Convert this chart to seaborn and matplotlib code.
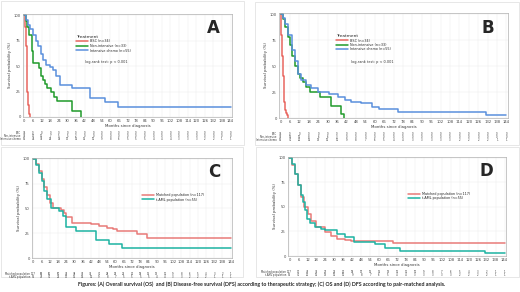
import matplotlib
matplotlib.use("Agg")
import matplotlib.pyplot as plt
from matplotlib.patches import Rectangle
import seaborn as sns
import pandas as pd

# ---- data (Kaplan-Meier step points) ----
months_ticks = list(range(0, 145, 6))

# A: overall survival by treatment
a_bsc_t = [0, 0.5, 1, 1.5, 2, 2.5, 3, 3.5, 4]
a_bsc_s = [100, 88, 70, 45, 25, 12, 6, 3, 0]
a_non_t = [0, 1, 2, 3.5, 5, 6, 10, 11.5, 13, 14.5, 16, 18.5, 20.5, 23, 33, 39.5]
a_non_s = [100, 94, 88, 80, 65, 53, 48, 40, 36, 32, 28, 25, 20, 16, 6, 0]
a_int_t = [0, 1, 2.5, 4, 6, 8, 9.5, 11.5, 13, 15, 18, 20, 22, 24.5, 33, 45.5, 56, 65.5, 144]
a_int_s = [100, 95, 90, 86, 80, 75, 70, 62, 56, 51, 49, 46, 40, 31, 28, 18.5, 14.5, 9.5, 9.5]

# B: disease-free survival by treatment
b_bsc_t = [0, 0.5, 1, 1.5, 2, 2.5, 3, 3.5, 4, 5]
b_bsc_s = [100, 80, 60, 40, 25, 15, 8, 5, 3, 0]
b_non_t = [0, 1.5, 3, 5, 6, 7, 9, 11, 12.5, 14.5, 16.5, 18.5, 25, 32, 38.5, 40.5]
b_non_s = [100, 95, 88, 78, 70, 60, 50, 42, 38, 35, 30, 25, 20, 12, 4, 0]
b_int_t = [0, 1.5, 3, 5, 7, 9, 11, 13, 16.5, 19.5, 24, 31, 36.5, 41, 45, 51.5, 58, 63, 75, 131, 144]
b_int_s = [100, 96, 90, 80, 65, 55, 42, 37, 32, 29, 25, 23, 20, 17, 15, 14, 11, 9, 6, 3, 3]

# C: OS pair-matched
c_mat_t = [0, 2, 4, 6, 8, 10, 12, 14, 16, 20, 22, 24, 28, 42, 48, 54, 58, 61, 76, 83, 144]
c_mat_s = [100, 95, 88, 80, 72, 64, 56, 51, 50, 48, 45, 41, 35, 34, 32, 30, 29, 27, 24, 20, 20]
c_taml_t = [0, 2, 4, 6, 8, 10, 13, 19, 21.5, 23.5, 31, 46, 55.5, 65, 144]
c_taml_s = [100, 94, 86, 78, 68, 60, 50, 47, 42, 31, 27, 18, 14, 10, 10]

# D: DFS pair-matched
d_mat_t = [0, 2, 4, 6, 8, 10, 12.5, 14.5, 18, 23.5, 28, 32, 37, 41, 69.5, 144]
d_mat_s = [100, 93, 84, 72, 60, 50, 43, 36, 30, 24, 20, 17, 16, 15, 13, 13]
d_taml_t = [0, 2, 4, 6, 7.5, 9, 10.5, 12, 13.5, 17, 21, 23.5, 32, 37, 43, 57.5, 64, 74, 131, 144]
d_taml_s = [100, 94, 84, 72, 62, 55, 47, 38, 34, 30, 28, 27, 22, 19, 14, 12, 8, 5, 3, 3]

# numbers at risk (estimated, too small to read exactly)
a_risk = {
    "BSC": [34] + [0] * 24,
    "Non-intensive": [33, 17, 11, 7, 5, 5, 2, 0] + [0] * 17,
    "Intensive chemo": [55, 44, 32, 26, 19, 17, 16, 15, 10, 9, 8, 6, 5, 5, 5, 4, 4, 4, 3, 3, 3, 2, 2, 1, 1],
}
b_risk = {
    "BSC": [34] + [0] * 24,
    "Non-intensive": [33, 16, 10, 8, 6, 6, 3, 0] + [0] * 17,
    "Intensive chemo": [55, 30, 20, 16, 13, 12, 10, 9, 8, 7, 6, 5, 4, 4, 3, 3, 3, 3, 3, 2, 2, 2, 2, 1, 1],
}
c_risk = {
    "Matched population": [117, 90, 60, 50, 42, 38, 35, 33, 30, 28, 25, 22, 20, 18, 15, 13, 11, 9, 8, 6, 5, 4, 3, 2, 1],
    "t-AML population": [55, 43, 30, 22, 17, 15, 14, 12, 9, 8, 7, 5, 5, 5, 5, 4, 4, 3, 3, 2, 2, 2, 1, 1, 1],
}
d_risk = {
    "Matched population": [117, 70, 45, 33, 27, 22, 20, 18, 17, 16, 15, 13, 12, 11, 10, 9, 8, 7, 6, 5, 4, 3, 2, 1, 1],
    "t-AML population": [55, 30, 20, 16, 13, 12, 10, 9, 8, 7, 6, 5, 4, 4, 3, 3, 3, 3, 3, 2, 2, 2, 2, 1, 1],
}

RED = "#e8665f"
GREEN = "#1f9a2a"
BLUE = "#5a8fdc"
PINK = "#e87a78"
TEAL = "#1cb3a2"
curve_colors = {"A": [RED, GREEN, BLUE], "B": [RED, GREEN, BLUE], "C": [PINK, TEAL], "D": [PINK, TEAL]}

W, H = 520, 292
sns.set_style("white")
plt.rcParams["font.family"] = ["DejaVu Sans"]
fig = plt.figure(figsize=(W / 100, H / 100), dpi=100)


def fx(px):
    return px / W


def fy(py):
    return 1 - py / H


def panel(box, letter, curves, risk, legend_pos, title=None, logrank_pos=None):
    left, top, right, bottom = box
    ax = fig.add_axes([fx(left), fy(bottom), fx(right - left), (bottom - top) / H])
    rows = []
    for name, t, s in curves:
        rows += [{"month": a, "surv": b, "group": name} for a, b in zip(t, s)]
    df = pd.DataFrame(rows)
    names = [c[0] for c in curves]
    sns.lineplot(data=df, x="month", y="surv", hue="group", hue_order=names,
                 palette=dict(zip(names, curve_colors[letter])),
                 drawstyle="steps-post", estimator=None, linewidth=1.1, ax=ax)
    ax.set_xlim(-1, 145)
    ax.set_ylim(0, 101)
    ax.set_xticks(months_ticks)
    ax.set_yticks([0, 25, 50, 75, 100])
    ax.tick_params(labelsize=2.7, length=1, width=0.3, pad=0.6, colors="#444444")
    ax.grid(True, color="#ececec", linewidth=0.35)
    for sp in ax.spines.values():
        sp.set_color("#b0b0b0")
        sp.set_linewidth(0.5)
    ax.set_xlabel("Months since diagnosis", fontsize=2.8, labelpad=0.8, color="#333333")
    ax.set_ylabel("Survival probability (%)", fontsize=2.8, labelpad=1.5, color="#333333")
    ax.text(0.94, 0.86, letter, transform=ax.transAxes, fontsize=12, fontweight="bold",
            ha="right", va="center")
    leg = ax.legend(loc="upper left", bbox_to_anchor=(fx(legend_pos[0]), fy(legend_pos[1])),
                    bbox_transform=fig.transFigure, frameon=False, fontsize=2.4,
                    title=title, title_fontsize=3.2, handlelength=3.5, labelspacing=0.15,
                    borderpad=0, borderaxespad=0, handletextpad=0.8)
    if title:
        leg._legend_box.align = "left"
    if logrank_pos:
        fig.text(fx(logrank_pos[0]), fy(logrank_pos[1]), "log-rank test: p < 0.001",
                 fontsize=2.5, color="#333333", va="center")
    # numbers at risk table
    row_y = bottom + 16
    for label, vals in risk.items():
        yy = fy(row_y)
        fig.text(fx(left - 2), yy, label, fontsize=1.8, ha="right", va="center", color="#333333")
        for m, v in zip(months_ticks, vals):
            xx = ax.transData.transform((m, 0))[0] / fig.dpi / fig.get_figwidth()
            fig.text(xx, yy, str(v), fontsize=1.8, ha="center", va="center", color="#333333")
        row_y += 3
    return ax


# panel frames
for (x0, y0, x1, y1) in [(1, 1, 244, 145), (255, 2, 519, 145), (1, 147, 243, 277), (256, 147, 519, 277)]:
    fig.patches.append(Rectangle((fx(x0), fy(y1)), fx(x1 - x0), (y1 - y0) / H,
                                 transform=fig.transFigure, fill=False,
                                 edgecolor="#dddddd", linewidth=0.5))

panel((23, 14, 232, 117), "A",
      [("BSC (n=34)", a_bsc_t, a_bsc_s), ("Non-intensive (n=33)", a_non_t, a_non_s),
       ("Intensive chemo (n=55)", a_int_t, a_int_s)],
      a_risk, (76, 35), title="Treatment", logrank_pos=(85, 62))
panel((279, 13, 508, 118), "B",
      [("BSC (n=34)", b_bsc_t, b_bsc_s), ("Non-intensive (n=33)", b_non_t, b_non_s),
       ("Intensive chemo (n=55)", b_int_t, b_int_s)],
      b_risk, (336, 34), title="Treatment", logrank_pos=(351, 62))
panel((32, 158, 232, 258), "C",
      [("Matched population (n=117)", c_mat_t, c_mat_s), ("t-AML population (n=55)", c_taml_t, c_taml_s)],
      c_risk, (142, 193))
panel((288, 157, 506, 256), "D",
      [("Matched population (n=117)", d_mat_t, d_mat_s), ("t-AML population (n=55)", d_taml_t, d_taml_s)],
      d_risk, (408, 192))

fig.text(fx(262), fy(284), "Figures: (A) Overall survival (OS)  and (B) Disease-free survival (DFS) according "
         "to therapeutic strategy; (C) OS and (D) DFS according to pair-matched analysis.",
         ha="center", va="center", fontsize=3.8, fontweight="bold", family=["Lato", "DejaVu Sans"])

fig.savefig("out.png", dpi=100)
